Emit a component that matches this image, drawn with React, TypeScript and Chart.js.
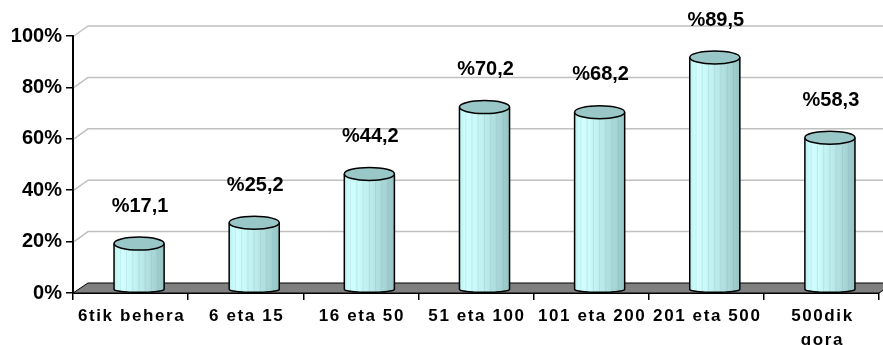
import React, { useEffect, useRef } from 'react';
import { Chart, registerables } from 'chart.js';

Chart.register(...registerables);

const categories: (string | string[])[] = [
  '6tik behera',
  '6 eta 15',
  '16 eta 50',
  '51 eta 100',
  '101 eta 200',
  '201 eta 500',
  ['500dik', 'gora'],
];
const percentValues: number[] = [17.1, 25.2, 44.2, 70.2, 68.2, 89.5, 58.3];
const yTickValues: number[] = [0, 20, 40, 60, 80, 100];
const valueLabels: string[] = percentValues.map((v) => '%' + v.toFixed(1).replace('.', ','));

const DEPTH_X = 15;
const DEPTH_Y = 10;
const FONT = 'Arial, "Liberation Sans", Helvetica, sans-serif';

function drawCylinder(ctx: CanvasRenderingContext2D, cx: number, w: number, top: number, base: number) {
  const rx = w / 2;
  const ryT = 6.5;
  const ryB = 3;
  const x0 = cx - rx;
  const x1 = cx + rx;
  const topC = top - ryT + 1;
  const botC = base - ryB;

  const g = ctx.createLinearGradient(x0, 0, x1, 0);
  g.addColorStop(0, '#b8eeee');
  g.addColorStop(0.12, '#d2ffff');
  g.addColorStop(0.3, '#cbfafa');
  g.addColorStop(0.55, '#bceaea');
  g.addColorStop(0.8, '#a8d6d6');
  g.addColorStop(1, '#95c3c3');

  ctx.save();
  ctx.beginPath();
  ctx.moveTo(x0, topC);
  ctx.lineTo(x0, botC);
  ctx.ellipse(cx, botC, rx, ryB, 0, Math.PI, 0, true);
  ctx.lineTo(x1, topC);
  ctx.closePath();
  ctx.fillStyle = g;
  ctx.fill();

  // faint vertical bands
  ctx.strokeStyle = 'rgba(120,170,170,0.22)';
  ctx.lineWidth = 1;
  for (let k = 1; k < 8; k++) {
    const bx = x0 + (w * k) / 8;
    ctx.beginPath();
    ctx.moveTo(bx, topC);
    ctx.lineTo(bx, botC + ryB * Math.sqrt(Math.max(0, 1 - Math.pow((bx - cx) / rx, 2))));
    ctx.stroke();
  }

  // outline of body
  ctx.strokeStyle = '#000';
  ctx.lineWidth = 1.5;
  ctx.beginPath();
  ctx.moveTo(x0, topC);
  ctx.lineTo(x0, botC);
  ctx.ellipse(cx, botC, rx, ryB, 0, Math.PI, 0, true);
  ctx.lineTo(x1, topC);
  ctx.stroke();

  // top cap
  ctx.beginPath();
  ctx.ellipse(cx, topC, rx, ryT, 0, 0, Math.PI * 2);
  ctx.fillStyle = '#99c6c6';
  ctx.fill();
  ctx.stroke();
  ctx.restore();
}

const cylinderPlugin = {
  id: 'cylinder3d',
  beforeDatasetsDraw(chart: any) {
    const { ctx, chartArea: a } = chart;
    const y = chart.scales.y;
    ctx.save();
    // wall gridlines
    ctx.strokeStyle = '#c0c0c0';
    ctx.lineWidth = 1.5;
    for (const v of yTickValues) {
      if (v === 0) continue;
      const py = y.getPixelForValue(v);
      ctx.beginPath();
      ctx.moveTo(a.left + 1, py);
      ctx.lineTo(a.left + DEPTH_X, py - DEPTH_Y);
      ctx.lineTo(chart.width, py - DEPTH_Y);
      ctx.stroke();
    }
    // floor
    const b = y.getPixelForValue(0);
    ctx.beginPath();
    ctx.moveTo(a.left, b);
    ctx.lineTo(a.left + DEPTH_X, b - DEPTH_Y);
    ctx.lineTo(a.right + DEPTH_X, b - DEPTH_Y);
    ctx.lineTo(a.right, b);
    ctx.closePath();
    ctx.fillStyle = '#808080';
    ctx.fill();
    ctx.strokeStyle = '#000';
    ctx.lineWidth = 1;
    ctx.stroke();
    ctx.restore();
  },
  afterDatasetsDraw(chart: any) {
    const { ctx, chartArea: a } = chart;
    const meta = chart.getDatasetMeta(0);
    meta.data.forEach((bar: any) => {
      const p = bar.getProps(['x', 'y', 'base', 'width'], true);
      drawCylinder(ctx, p.x + DEPTH_X / 2 + 1, p.width, p.y, p.base);
    });
    // value labels
    ctx.save();
    ctx.fillStyle = '#000';
    ctx.font = 'bold 20px ' + FONT;
    ctx.textAlign = 'center';
    ctx.textBaseline = 'middle';
    meta.data.forEach((bar: any, i: number) => {
      const p = bar.getProps(['x', 'y'], true);
      ctx.fillText(valueLabels[i], p.x + DEPTH_X / 2 + 2, p.y - 43);
    });
    ctx.restore();
    // category labels
    const xs = chart.scales.x;
    ctx.save();
    ctx.fillStyle = '#000';
    ctx.font = 'bold 17px ' + FONT;
    (ctx as any).letterSpacing = '1.6px';
    ctx.textAlign = 'center';
    ctx.textBaseline = 'middle';
    categories.forEach((c, i) => {
      const lines = Array.isArray(c) ? c : [c];
      const cx = xs.getPixelForValue(i) + 1;
      lines.forEach((ln, j) => {
        ctx.fillText(ln, cx, a.bottom + 23.5 + j * 24);
      });
    });
    ctx.restore();
  },
};

export default function App() {
  const ref = useRef<HTMLCanvasElement | null>(null);

  useEffect(() => {
    if (!ref.current) return;
    const chart = new Chart(ref.current, {
      type: 'bar',
      data: {
        labels: categories.map((c) => (Array.isArray(c) ? c.join(' ') : c)),
        datasets: [
          {
            data: percentValues,
            backgroundColor: 'rgba(0,0,0,0)',
            borderWidth: 0,
            barPercentage: 0.435,
            categoryPercentage: 1,
          },
        ],
      },
      options: {
        animation: false,
        responsive: true,
        maintainAspectRatio: false,
        devicePixelRatio: 1,
        layout: { padding: { top: 36, right: 4, left: 0, bottom: 0 } },
        plugins: { legend: { display: false }, tooltip: { enabled: false } },
        scales: {
          x: {
            grid: {
              offset: true,
              drawOnChartArea: false,
              drawTicks: true,
              tickLength: 7,
              color: '#000',
              lineWidth: 1.5,
            },
            border: { display: true, color: '#000', width: 2 },
            ticks: { display: false },
            afterFit: (s: any) => {
              s.height = 52;
            },
          },
          y: {
            min: 0,
            max: 100,
            grid: {
              drawOnChartArea: false,
              drawTicks: true,
              tickLength: 7,
              color: '#000',
              lineWidth: 1.5,
            },
            border: { display: true, color: '#000', width: 2 },
            ticks: {
              padding: 4,
              color: '#000',
              font: { family: FONT, size: 20, weight: 'bold' },
              callback: (v: any) => v + '%',
            },
            afterBuildTicks: (s: any) => {
              s.ticks = yTickValues.map((v) => ({ value: v }));
            },
            afterFit: (s: any) => {
              s.width = 73;
            },
          },
        },
      },
      plugins: [cylinderPlugin],
    } as any);
    return () => chart.destroy();
  }, []);

  return (
    <div style={{ position: 'absolute', left: 0, top: 0, width: 883, height: 345, background: '#fff' }}>
      <canvas ref={ref} />
    </div>
  );
}
